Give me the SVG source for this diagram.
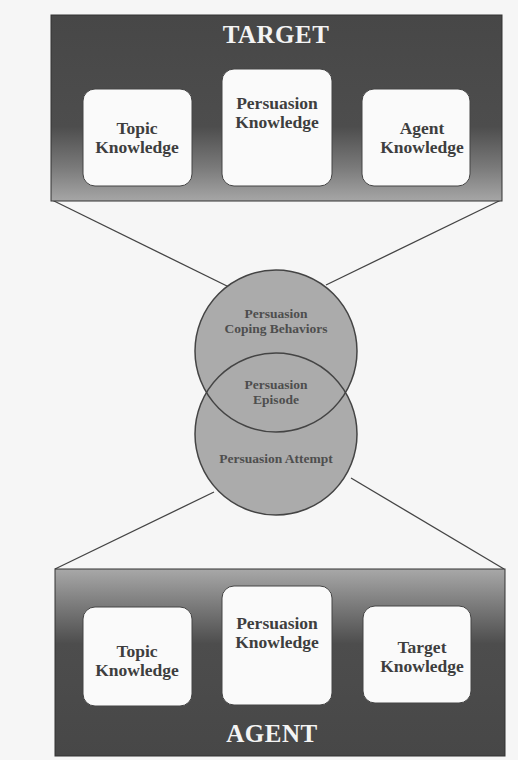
<svg xmlns="http://www.w3.org/2000/svg" width="518" height="760" viewBox="0 0 518 760">
<defs>
<linearGradient id="gTop" x1="0" y1="0" x2="0" y2="1">
<stop offset="0" stop-color="#474747"/>
<stop offset="0.6" stop-color="#4d4d4d"/>
<stop offset="0.82" stop-color="#7a7a7a"/>
<stop offset="1" stop-color="#a6a6a6"/>
</linearGradient>
<linearGradient id="gBot" x1="0" y1="0" x2="0" y2="1">
<stop offset="0" stop-color="#a8a8a8"/>
<stop offset="0.18" stop-color="#7e7e7e"/>
<stop offset="0.4" stop-color="#4d4d4d"/>
<stop offset="1" stop-color="#474747"/>
</linearGradient>
<style>
.panel{stroke:#333;stroke-width:1}
.card{fill:#fafafa;stroke:#444;stroke-width:1}
.lbl{font-family:"Liberation Serif",serif;font-weight:bold;font-size:17.5px;fill:#3e3e3e;text-anchor:middle}
.ttl{font-family:"Liberation Serif",serif;font-weight:bold;font-size:25px;fill:#f4f4f4;text-anchor:middle;letter-spacing:0.5px}
.cl{font-family:"Liberation Serif",serif;font-weight:bold;font-size:13.5px;fill:#4e4e4e;text-anchor:middle}
.conn{stroke:#444;stroke-width:1.3;fill:none}
.circ{fill:#ababab}
.circs{fill:none;stroke:#444;stroke-width:1.5}
</style>
</defs>
<rect x="0" y="0" width="518" height="760" fill="#f6f6f6"/>
<g id="connectors">
<line class="conn" x1="52" y1="200" x2="229" y2="287"/>
<line class="conn" x1="501" y1="200" x2="326" y2="285"/>
<line class="conn" x1="55" y1="569" x2="214" y2="492"/>
<line class="conn" x1="504" y1="569" x2="351" y2="478"/>
</g>
<g id="target">
<rect class="panel" x="51" y="15" width="451" height="186" fill="url(#gTop)"/>
<text class="ttl" x="276" y="43">TARGET</text>
</g>
<g id="target-topic">
<rect class="card" x="83" y="89" width="109" height="97" rx="12"/>
<text class="lbl" x="137" y="134">Topic</text>
<text class="lbl" x="137" y="153">Knowledge</text>
</g>
<g id="target-persuasion">
<rect class="card" x="222" y="69" width="110" height="117" rx="12"/>
<text class="lbl" x="277" y="109">Persuasion</text>
<text class="lbl" x="277" y="128">Knowledge</text>
</g>
<g id="target-agent">
<rect class="card" x="362" y="89" width="108" height="97" rx="12"/>
<text class="lbl" x="422" y="134">Agent</text>
<text class="lbl" x="422" y="153">Knowledge</text>
</g>
<g id="circles">
<circle class="circ" cx="276" cy="351" r="81"/>
<circle class="circ" cx="276" cy="434" r="81"/>
<circle class="circs" cx="276" cy="351" r="81"/>
<circle class="circs" cx="276" cy="434" r="81"/>
</g>
<g id="coping">
<text class="cl" x="276" y="318">Persuasion</text>
<text class="cl" x="276" y="333">Coping Behaviors</text>
</g>
<g id="episode">
<text class="cl" x="276" y="389">Persuasion</text>
<text class="cl" x="276" y="404">Episode</text>
</g>
<g id="attempt">
<text class="cl" x="276" y="463">Persuasion Attempt</text>
</g>
<g id="agent">
<rect class="panel" x="55" y="569" width="450" height="187" fill="url(#gBot)"/>
<text class="ttl" x="272" y="742">AGENT</text>
</g>
<g id="agent-topic">
<rect class="card" x="83" y="607" width="109" height="99" rx="12"/>
<text class="lbl" x="137" y="657">Topic</text>
<text class="lbl" x="137" y="676">Knowledge</text>
</g>
<g id="agent-persuasion">
<rect class="card" x="222" y="586" width="110" height="119" rx="12"/>
<text class="lbl" x="277" y="629">Persuasion</text>
<text class="lbl" x="277" y="648">Knowledge</text>
</g>
<g id="agent-target">
<rect class="card" x="363" y="606" width="108" height="97" rx="12"/>
<text class="lbl" x="422" y="653">Target</text>
<text class="lbl" x="422" y="672">Knowledge</text>
</g>
</svg>
